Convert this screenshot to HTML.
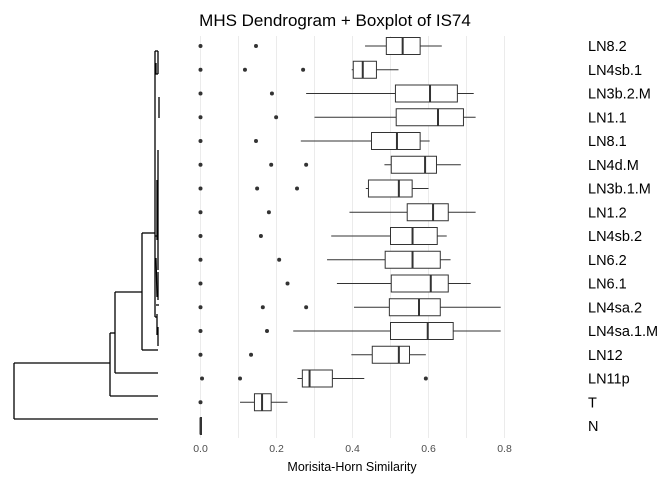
<!DOCTYPE html>
<html><head><meta charset="utf-8"><style>
body{margin:0;background:#fff;}
svg{display:block;font-family:"Liberation Sans",sans-serif;}
</style></head><body>
<svg id="chart" width="672" height="480">
<text x="335" y="26" text-anchor="middle" font-size="17" fill="#000">MHS Dendrogram + Boxplot of IS74</text>
<g id="grid"></g>
<g id="dendro"></g>
<g id="boxes"></g>
<g id="labels"></g>
<g id="xaxis"></g>
<text x="352" y="471" text-anchor="middle" font-size="12.5" fill="#000">Morisita-Horn Similarity</text>
</svg>
<script>
const categories=["LN8.2","LN4sb.1","LN3b.2.M","LN1.1","LN8.1","LN4d.M","LN3b.1.M","LN1.2","LN4sb.2","LN6.2","LN6.1","LN4sa.2","LN4sa.1.M","LN12","LN11p","T","N"];
const whiskerLow=[0.433,0.398,0.278,0.300,0.264,0.484,0.435,0.392,0.344,0.333,0.359,0.404,0.244,0.397,0.255,0.104,0];
const q1=[0.489,0.402,0.513,0.515,0.450,0.502,0.442,0.544,0.500,0.486,0.502,0.497,0.500,0.452,0.268,0.142,0];
const medians=[0.532,0.427,0.604,0.625,0.517,0.591,0.522,0.612,0.558,0.558,0.606,0.575,0.598,0.522,0.287,0.162,0];
const q3=[0.578,0.463,0.676,0.692,0.578,0.621,0.557,0.652,0.623,0.631,0.652,0.631,0.665,0.550,0.347,0.186,0.002];
const whiskerHigh=[0.635,0.521,0.719,0.724,0.603,0.685,0.600,0.724,0.648,0.658,0.711,0.790,0.790,0.593,0.431,0.229,0.002];
const outliers=[[0,0.146],[0,0.117,0.270],[0,0.188],[0,0.199],[0,0.146],[0,0.186,0.278],[0,0.149,0.254],[0,0.180],[0,0.159],[0,0.207],[0,0.229],[0,0.164,0.278],[0,0.175],[0,0.133],[0.004,0.104,0.593],[0],[]];
const xTicks=[0,0.2,0.4,0.6,0.8];
const xTickLabels=["0.0","0.2","0.4","0.6","0.8"];
const gridVals=[0,0.1,0.2,0.3,0.4,0.5,0.6,0.7,0.8];

const NS="http://www.w3.org/2000/svg";
const x=v=>200.5+v*380;
const y=i=>46+i*23.75;
function mk(parent,tag,attrs){const e=document.createElementNS(NS,tag);for(const k in attrs)e.setAttribute(k,attrs[k]);document.getElementById(parent).appendChild(e);return e;}

gridVals.forEach(v=>{const l=mk('grid','line',{x1:x(v),x2:x(v),y1:36,y2:438,stroke:'#ebebeb','stroke-width':1});

});

xTicks.forEach((v,i)=>{const t=mk('xaxis','text',{x:x(v),y:452,'text-anchor':'middle','font-size':'10.5',fill:'#4d4d4d'});t.textContent=xTickLabels[i];

});

categories.forEach((c,i)=>{
 const cy=y(i),h=17;
 const g=mk('boxes','g',{});
 
 
 const add=(tag,a)=>{const e=document.createElementNS(NS,tag);for(const k in a)e.setAttribute(k,a[k]);g.appendChild(e);return e;};
 add('line',{x1:x(whiskerLow[i]),x2:x(q1[i]),y1:cy,y2:cy,stroke:'#333','stroke-width':1});
 add('line',{x1:x(q3[i]),x2:x(whiskerHigh[i]),y1:cy,y2:cy,stroke:'#333','stroke-width':1});
 add('rect',{x:x(q1[i]),y:cy-h/2,width:Math.max(1,x(q3[i])-x(q1[i])),height:h,fill:'#fff',stroke:'#333','stroke-width':1});
 add('line',{x1:x(medians[i]),x2:x(medians[i]),y1:cy-h/2,y2:cy+h/2,stroke:'#333','stroke-width':2});
 outliers[i].forEach(o=>{const p=add('circle',{cx:x(o),cy:cy,r:2,fill:'#333'});
  
  });
 const t=mk('labels','text',{x:588,y:cy+5,'font-size':'14.5',fill:'#000'});t.textContent=c;
 
 
});

const ly=i=>51+i*23;
const segs=[
 [14,ly(16),158,ly(16)],[14,ly(16),14,363],[14,363,110,363],
 [110,333,110,ly(15)],[110,ly(15),158,ly(15)],[110,333,115,333],
 [115,292,115,ly(14)],[115,ly(14),158,ly(14)],[115,292,142,292],
 [142,233,142,ly(13)],[142,ly(13),158,ly(13)],[142,233,155,233],
 [155,ly(0),155,317],[155,ly(0),158,ly(0)],[155,ly(1),158,ly(1)],
 [158,ly(0),158,ly(1)],[156,63,156,74],[159,97,159,118],[158,150,158,270],
 [157,180,157,240],[156,305,159,305],[156,258,157,297],[158,272,158,300],
 [155,236,158,236],[155,317,157,317],[157,314,157,335],[158,327,158,346]
];
segs.forEach(s=>{const l=mk('dendro','line',{x1:s[0],y1:s[1],x2:s[2],y2:s[3],stroke:'#000','stroke-width':1.3});
 
 });
</script>
</body></html>
